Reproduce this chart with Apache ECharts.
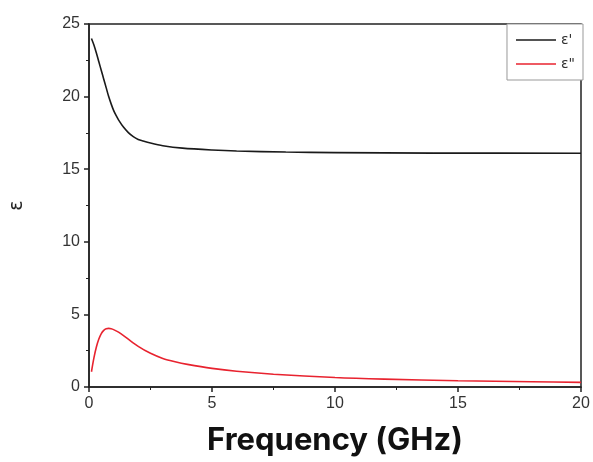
<!DOCTYPE html>
<html>
<head>
<meta charset="utf-8">
<script src="https://cdn.jsdelivr.net/npm/echarts@6/dist/echarts.min.js"></script>
<style>html,body{margin:0;padding:0;background:#fff}#c{width:593px;height:462px}</style>
</head>
<body>
<div id="c"></div>
<script>
// ε' (real part)
const realFreq = [0.1, 0.2, 0.3, 0.4, 0.5, 0.6, 0.7, 0.8, 0.9, 1.0, 1.1, 1.2, 1.4, 1.6, 1.8, 2.0, 2.2, 2.5, 3.0, 3.8, 5.0, 6.0, 8.0, 10.0, 14.0, 20.0];
const realVals = [24.0, 23.55, 23.0, 22.4, 21.8, 21.2, 20.6, 20.0, 19.5, 19.05, 18.7, 18.4, 17.9, 17.52, 17.24, 17.05, 16.94, 16.8, 16.62, 16.45, 16.32, 16.25, 16.18, 16.14, 16.11, 16.1];
// ε'' (imaginary part)
const imagFreq = [0.1, 0.2, 0.3, 0.4, 0.5, 0.6, 0.7, 0.8, 0.9, 1.0, 1.2, 1.5, 2.0, 2.5, 3.0, 3.5, 4.0, 5.0, 6.0, 7.5, 10.0, 12.0, 15.0, 18.0, 20.0];
const imagVals = [1.05, 2.0, 2.75, 3.3, 3.68, 3.9, 4.01, 4.04, 4.01, 3.95, 3.78, 3.42, 2.8, 2.32, 1.97, 1.74, 1.56, 1.28, 1.08, 0.88, 0.65, 0.54, 0.43, 0.36, 0.32];
const xTicks = [0, 5, 10, 15, 20];
const yTicks = [0, 5, 10, 15, 20, 25];

const pair = (xs, ys) => xs.map((x, i) => [x, ys[i]]);
const chart = echarts.init(document.getElementById('c'));
const axisCommon = {
  axisLine: {show: true, lineStyle: {color: '#222', width: 1.5}},
  axisTick: {show: true, inside: false, length: 5, lineStyle: {color: '#222', width: 1.5}},
  minorTick: {show: true, splitNumber: 2, length: 3, lineStyle: {color: '#222', width: 1}},
  splitLine: {show: false},
  axisLabel: {color: '#333', fontSize: 16, fontFamily: 'Liberation Sans, Arial, sans-serif'}
};
const lineIcon = 'path://M0,4.2L40,4.2L40,5.8L0,5.8Z';
chart.setOption({
  animation: false,
  backgroundColor: '#fff',
  grid: {left: 89, right: 12, top: 24, bottom: 75, show: true, borderColor: '#222', borderWidth: 1.5, backgroundColor: 'transparent'},
  legend: {
    orient: 'vertical', right: 10, top: 24, padding: [9, 8, 9, 9], itemGap: 10,
    itemWidth: 40, itemHeight: 10,
    backgroundColor: '#fff', borderColor: '#999', borderWidth: 1,
    textStyle: {fontSize: 14, color: '#333', fontFamily: 'DejaVu Sans, sans-serif'},
    data: [{name: "ε'", icon: lineIcon}, {name: 'ε"', icon: lineIcon}]
  },
  xAxis: Object.assign({}, axisCommon, {
    type: 'value', min: 0, max: 20, interval: 5,
    name: 'Frequency (GHz)', nameLocation: 'middle', nameGap: 38,
    nameTextStyle: {fontSize: 31, fontWeight: 'bold', color: '#111', fontFamily: 'Inter, Roboto, sans-serif'},
    axisLabel: Object.assign({}, axisCommon.axisLabel, {margin: 9, formatter: v => xTicks.includes(v) ? String(v) : ''})
  }),
  yAxis: Object.assign({}, axisCommon, {
    type: 'value', min: 0, max: 25, interval: 5,
    name: 'ε', nameLocation: 'middle', nameGap: 62,
    nameTextStyle: {fontSize: 19, color: '#222', fontFamily: 'DejaVu Sans, sans-serif'},
    axisLabel: Object.assign({}, axisCommon.axisLabel, {margin: 9, formatter: v => yTicks.includes(v) ? String(v) : ''})
  }),
  series: [
    {name: "ε'", type: 'line', smooth: 0.3, showSymbol: false, data: pair(realFreq, realVals),
     lineStyle: {color: '#1a1a1a', width: 1.6}, itemStyle: {color: '#1a1a1a'}},
    {name: 'ε"', type: 'line', smooth: 0.3, showSymbol: false, data: pair(imagFreq, imagVals),
     lineStyle: {color: '#e8232f', width: 1.6}, itemStyle: {color: '#e8232f'}}
  ]
});
</script>
</body>
</html>
